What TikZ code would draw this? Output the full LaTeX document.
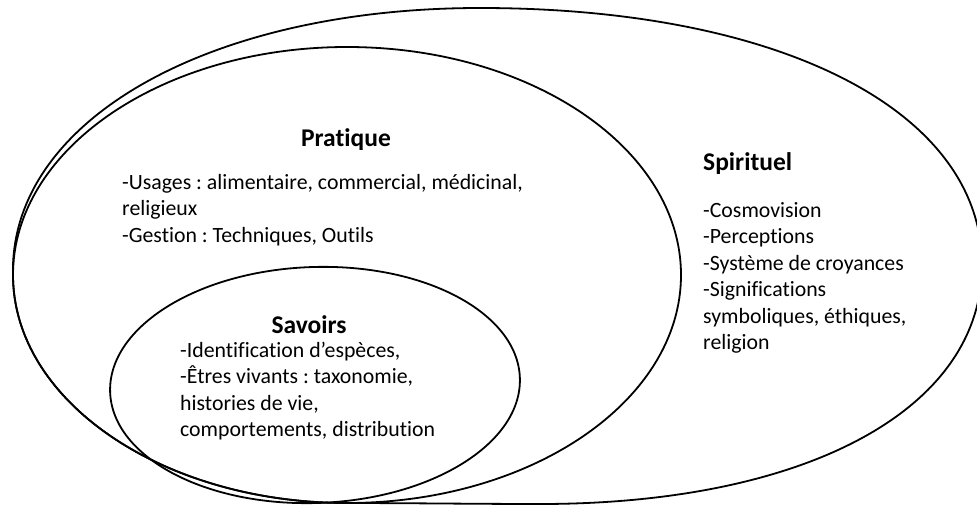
\documentclass[tikz,border=0pt]{standalone}
\usepackage{fontspec}
\setmainfont{Carlito}[Ligatures={NoCommon}]
\frenchspacing
\tikzset{
  contour/.style={line width=1.8pt},
  heading/.style={anchor=base, inner sep=0pt, font=\bfseries\fontsize{25.5}{30}\selectfont},
  bodytext/.style={anchor=base west, align=left, inner sep=0pt, font=\fontsize{21.8}{26.5}\selectfont}
}
\begin{document}
\begin{tikzpicture}[x=1pt,y=-1pt]
  \useasboundingbox (0,0) rectangle (977,506);
  % outer domain, its lower left runs along the middle one
  \draw[contour] (480,8) .. controls (781,8) and (982,111) .. (982,265)
    .. controls (982,410) and (805,504) .. (540,504)
    .. controls (480,504) and (400,503) .. (347,503)
    arc[start angle=90, end angle=180, x radius=334, y radius=228]
    .. controls (9,120) and (210,8) .. cycle;
  % middle and inner domains
  \draw[contour] (347,275) ellipse [x radius=334, y radius=228];
  \draw[contour, rotate around={2:(315,385)}] (315,385) ellipse [x radius=205, y radius=118];

  \node[heading] (pratique) at (346,146) {Pratique};
  \node[bodytext] (pratiqueText) at (122,242) {-Usages : alimentaire, commercial, médicinal,\\religieux\\-Gestion : Techniques, Outils};
  \node[heading, anchor=base west] (spirituel) at (703,170) {Spirituel};
  \node[bodytext] (spirituelText) at (703,349.5) {-Cosmovision\\-Perceptions\\-Système de croyances\\-Significations\\symboliques, éthiques,\\religion};
  \node[heading] (savoirs) at (309,333) {Savoirs};
  \node[bodytext] (savoirsText) at (180,436.5) {-Identification d’espèces,\\-Êtres vivants : taxonomie,\\histories de vie,\\comportements, distribution};
\end{tikzpicture}
\end{document}
